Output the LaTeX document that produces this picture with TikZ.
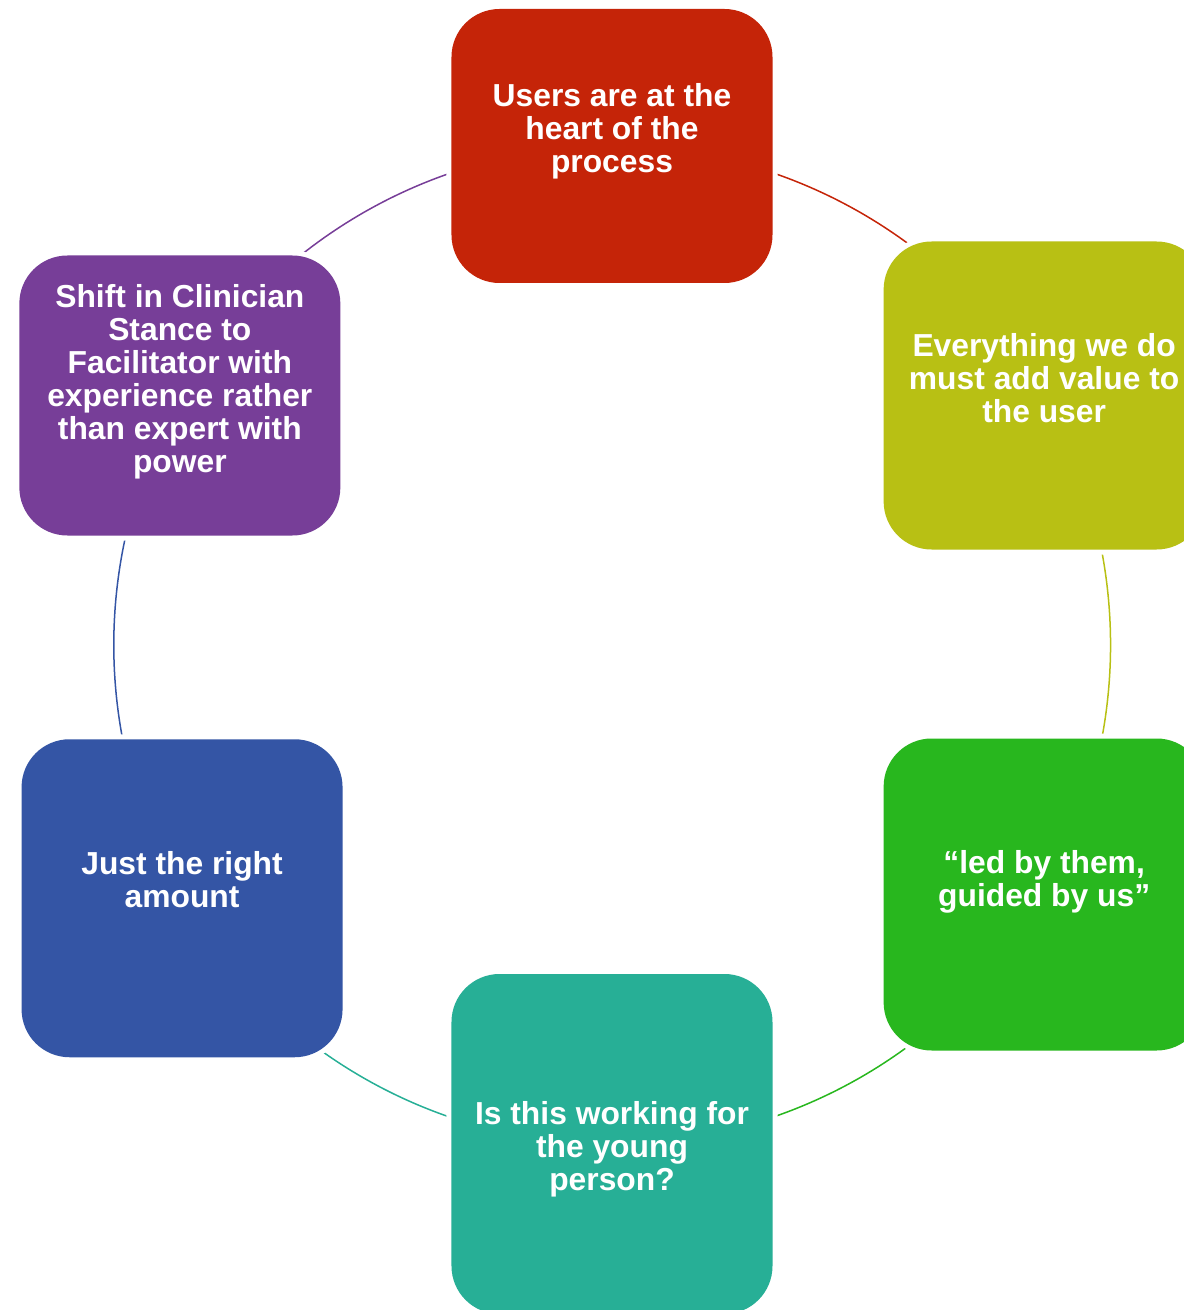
\documentclass[tikz,border=0pt]{standalone}
\usepackage{fontspec}
\setmainfont{Liberation Sans}
\usetikzlibrary{backgrounds}

\definecolor{heartred}{HTML}{C52408}
\definecolor{valueolive}{HTML}{B8C014}
\definecolor{guidedgreen}{HTML}{28B71E}
\definecolor{workingteal}{HTML}{27AF96}
\definecolor{amountblue}{HTML}{3455A5}
\definecolor{shiftpurple}{HTML}{773E98}

\begin{document}
\begin{tikzpicture}[line cap=round,
        stage/.style={rounded corners=48pt, minimum width=321pt, text width=280pt,
            align=flush center, text=white, inner sep=0pt,
            font=\fontsize{31.8}{33}\selectfont\bfseries,
            preaction={draw=white, line width=10pt}},
        lift/.style={execute at end node={\endgraf\vspace*{#1}}},
        ring/.style={line width=1.5pt}]
        % fix the page to the size of the picture
        \useasboundingbox (-612pt,-665pt) rectangle (572pt,645pt);

        % draw the six stages round the circle
        \foreach \ang/\name/\col/\hgt/\up/\txt in {
            90/heart/heartred/274/30/{Users are at the\\heart of the\\process},
            30/value/valueolive/308/35/{Everything we do\\must add value to\\the user},
            -30/guided/guidedgreen/312/26/{“led by them,\\guided by us”},
            -90/working/workingteal/340/-10/{Is this working for\\the young\\person?},
            210.5/amount/amountblue/318/38/{Just the right\\amount},
            150/shift/shiftpurple/280/28/{Shift in Clinician\\Stance to\\Facilitator with\\experience rather\\than expert with\\power}}
                \node[stage, fill=\col, minimum height=\hgt pt, lift=\up pt]
                    (\name) at (\ang:499pt) {\txt};

        % draw the arcs from each stage to the next
        \begin{scope}[on background layer]
            \foreach \from/\to/\col in {
                heart/value/heartred,
                value/guided/valueolive,
                guided/working/guidedgreen,
                working/amount/workingteal,
                amount/shift/amountblue,
                shift/heart/shiftpurple}
                    \draw[ring, \col] (\from.center) to[bend left=30, looseness=0.91] (\to.center);
        \end{scope}
\end{tikzpicture}
\end{document}
